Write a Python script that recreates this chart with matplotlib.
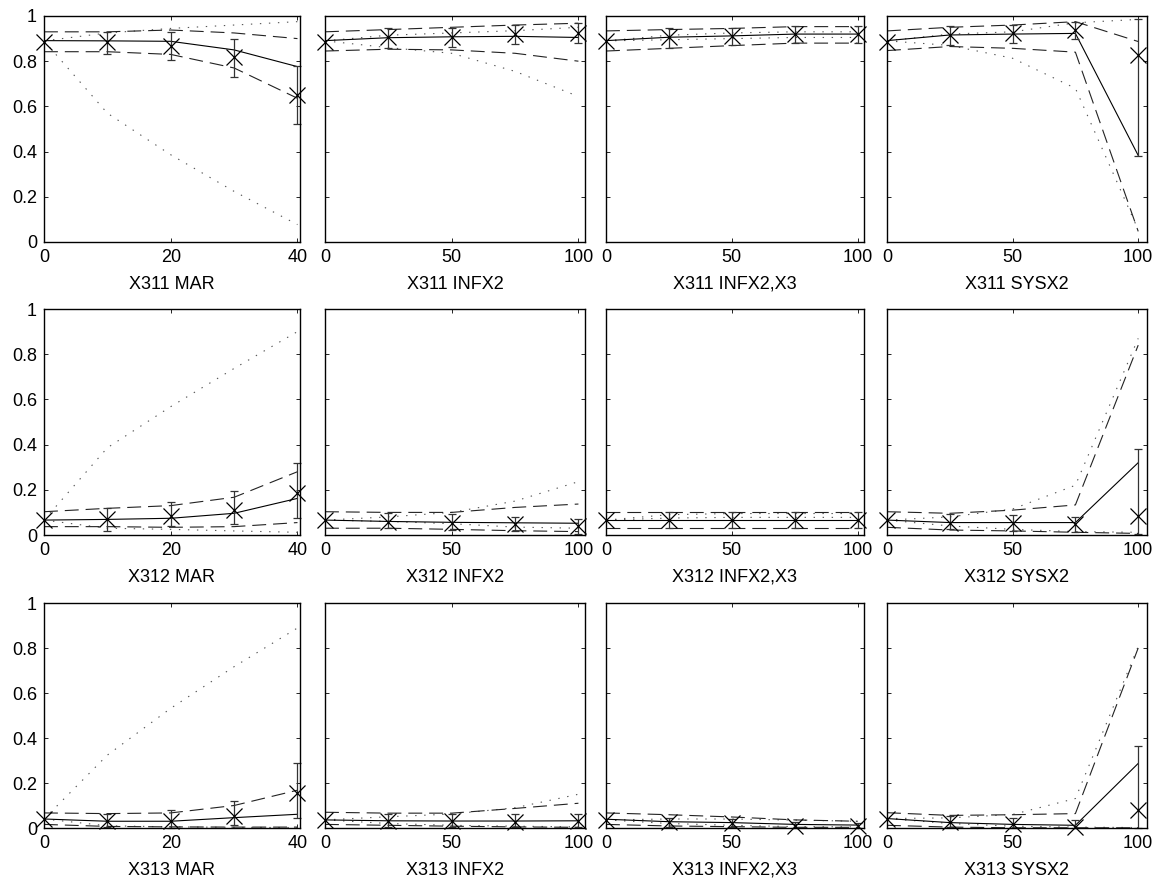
import matplotlib
matplotlib.use('Agg')
import matplotlib.pyplot as plt
import numpy as np

plt.rcParams['font.family'] = ['Liberation Sans', 'DejaVu Sans']
plt.rcParams['lines.scale_dashes'] = False

# panel titles (row by row)
titles = ['X311 MAR', 'X311 INFX2', 'X311 INFX2,X3', 'X311 SYSX2',
          'X312 MAR', 'X312 INFX2', 'X312 INFX2,X3', 'X312 SYSX2',
          'X313 MAR', 'X313 INFX2', 'X313 INFX2,X3', 'X313 SYSX2']
x_mar = [0, 10, 20, 30, 40]
x_pct = [0, 25, 50, 75, 100]

# solid line
mean_line = [
    [0.891, 0.890, 0.888, 0.850, 0.776],
    [0.891, 0.904, 0.908, 0.910, 0.905],
    [0.891, 0.906, 0.912, 0.920, 0.920],
    [0.891, 0.916, 0.920, 0.923, 0.383],
    [0.066, 0.069, 0.074, 0.096, 0.162],
    [0.066, 0.060, 0.056, 0.054, 0.052],
    [0.066, 0.066, 0.066, 0.066, 0.066],
    [0.066, 0.055, 0.055, 0.055, 0.320],
    [0.040, 0.030, 0.030, 0.046, 0.061],
    [0.036, 0.032, 0.031, 0.031, 0.032],
    [0.039, 0.028, 0.024, 0.016, 0.013],
    [0.042, 0.024, 0.016, 0.012, 0.287],
]
# x markers
est = [
    [0.887, 0.884, 0.867, 0.820, 0.650],
    [0.887, 0.906, 0.906, 0.920, 0.923],
    [0.888, 0.905, 0.910, 0.920, 0.920],
    [0.887, 0.916, 0.923, 0.938, 0.828],
    [0.066, 0.069, 0.086, 0.110, 0.184],
    [0.066, 0.058, 0.052, 0.048, 0.040],
    [0.066, 0.066, 0.066, 0.066, 0.066],
    [0.066, 0.055, 0.052, 0.047, 0.084],
    [0.040, 0.031, 0.031, 0.052, 0.156],
    [0.036, 0.030, 0.030, 0.028, 0.030],
    [0.036, 0.026, 0.022, 0.010, 0.008],
    [0.042, 0.027, 0.016, 0.004, 0.082],
]
# error bar ends
err_hi = [
    [0.887, 0.928, 0.928, 0.900, 0.780],
    [0.887, 0.945, 0.945, 0.960, 0.970],
    [0.888, 0.945, 0.945, 0.955, 0.955],
    [0.887, 0.956, 0.960, 0.975, 0.985],
    [0.066, 0.120, 0.145, 0.195, 0.317],
    [0.066, 0.099, 0.092, 0.081, 0.069],
    [0.066, 0.103, 0.103, 0.103, 0.103],
    [0.066, 0.093, 0.088, 0.078, 0.379],
    [0.040, 0.061, 0.082, 0.119, 0.290],
    [0.036, 0.061, 0.061, 0.061, 0.061],
    [0.036, 0.046, 0.038, 0.025, 0.022],
    [0.042, 0.053, 0.046, 0.037, 0.364],
]
err_lo = [
    [0.887, 0.830, 0.806, 0.730, 0.523],
    [0.887, 0.857, 0.865, 0.875, 0.882],
    [0.888, 0.857, 0.872, 0.880, 0.880],
    [0.887, 0.872, 0.882, 0.900, 0.379],
    [0.066, 0.018, 0.041, 0.050, 0.074],
    [0.066, 0.030, 0.022, 0.018, 0.003],
    [0.066, 0.030, 0.030, 0.030, 0.030],
    [0.066, 0.025, 0.018, 0.012, 0.003],
    [0.040, 0.004, 0.001, 0.012, 0.046],
    [0.036, 0.003, 0.003, 0.005, 0.005],
    [0.036, 0.005, 0.003, 0.000, 0.000],
    [0.042, 0.004, 0.001, 0.000, 0.000],
]
# dashed bounds
dash_hi = [
    [0.930, 0.930, 0.938, 0.925, 0.900],
    [0.930, 0.940, 0.950, 0.960, 0.968],
    [0.934, 0.940, 0.945, 0.953, 0.953],
    [0.934, 0.950, 0.960, 0.975, 0.887],
    [0.103, 0.118, 0.130, 0.167, 0.280],
    [0.103, 0.100, 0.100, 0.122, 0.137],
    [0.103, 0.103, 0.103, 0.103, 0.103],
    [0.103, 0.096, 0.110, 0.133, 0.840],
    [0.067, 0.064, 0.067, 0.100, 0.168],
    [0.070, 0.066, 0.066, 0.087, 0.110],
    [0.067, 0.059, 0.049, 0.036, 0.030],
    [0.068, 0.056, 0.059, 0.064, 0.800],
]
dash_lo = [
    [0.842, 0.842, 0.830, 0.770, 0.636],
    [0.845, 0.853, 0.850, 0.835, 0.800],
    [0.845, 0.857, 0.869, 0.880, 0.880],
    [0.847, 0.865, 0.857, 0.840, 0.047],
    [0.037, 0.037, 0.034, 0.037, 0.055],
    [0.030, 0.030, 0.025, 0.019, 0.015],
    [0.030, 0.030, 0.030, 0.030, 0.030],
    [0.034, 0.022, 0.018, 0.012, 0.007],
    [0.016, 0.007, 0.005, 0.004, 0.004],
    [0.016, 0.012, 0.008, 0.005, 0.003],
    [0.016, 0.009, 0.006, 0.003, 0.003],
    [0.012, 0.004, 0.001, 0.001, 0.001],
]
# dotted bounds
dot_hi = [
    [0.890, 0.925, 0.945, 0.960, 0.975],
    [0.890, 0.915, 0.925, 0.935, 0.950],
    [0.890, 0.915, 0.925, 0.930, 0.930],
    [0.890, 0.920, 0.930, 0.970, 0.985],
    [0.066, 0.386, 0.568, 0.737, 0.900],
    [0.066, 0.080, 0.100, 0.150, 0.236],
    [0.066, 0.090, 0.095, 0.095, 0.095],
    [0.066, 0.080, 0.115, 0.220, 0.870],
    [0.040, 0.324, 0.532, 0.717, 0.889],
    [0.036, 0.050, 0.062, 0.090, 0.150],
    [0.036, 0.040, 0.040, 0.035, 0.030],
    [0.042, 0.045, 0.060, 0.131, 0.807],
]
dot_lo = [
    [0.890, 0.570, 0.386, 0.224, 0.077],
    [0.890, 0.860, 0.835, 0.755, 0.644],
    [0.890, 0.895, 0.900, 0.905, 0.905],
    [0.890, 0.870, 0.813, 0.680, 0.054],
    [0.066, 0.030, 0.025, 0.018, 0.012],
    [0.066, 0.060, 0.050, 0.035, 0.030],
    [0.066, 0.075, 0.078, 0.078, 0.078],
    [0.066, 0.040, 0.025, 0.015, 0.012],
    [0.040, 0.010, 0.005, 0.003, 0.002],
    [0.036, 0.020, 0.012, 0.008, 0.005],
    [0.036, 0.020, 0.012, 0.006, 0.005],
    [0.042, 0.020, 0.008, 0.004, 0.002],
]

W, H = 1159, 880
fig = plt.figure(figsize=(W / 100, H / 100), dpi=100)

# axes boxes in pixels
col_left = [44, 325, 606, 887]
col_w = [256, 260, 258, 260]
col_xmax = [40.4, 102.6, 102.5, 103.5]
row_top = [16, 309, 603]
row_h = [226, 226, 225]

for i in range(12):
    r, c = divmod(i, 4)
    ax = fig.add_axes([col_left[c] / W, 1 - (row_top[r] + row_h[r]) / H,
                       col_w[c] / W, row_h[r] / H])
    x = np.array(x_mar if c == 0 else x_pct)

    ax.plot(x, dot_hi[i], color='#555555', lw=0.8, dashes=(1, 5.5))
    ax.plot(x, dot_lo[i], color='#555555', lw=0.8, dashes=(1, 5.5))
    ax.plot(x, dash_hi[i], color='#222222', lw=0.8, dashes=(10, 5))
    ax.plot(x, dash_lo[i], color='#222222', lw=0.8, dashes=(10, 5))
    ax.plot(x, mean_line[i], color='black', lw=0.8)

    e = np.array(est[i])
    lo = e - np.array(err_lo[i])
    hi = np.array(err_hi[i]) - e
    eb = ax.errorbar(x[1:], e[1:], yerr=[lo[1:], hi[1:]], fmt='none',
                     ecolor='#333333', elinewidth=0.9, capsize=3, capthick=0.9)
    for art in eb.lines[1] + eb.lines[2]:
        art.set_clip_on(False)
    ax.plot(x, e, 'x', color='black', ms=11, mew=0.9, clip_on=False)

    ax.set_xlim(0, col_xmax[c])
    ax.set_ylim(0, 1)
    ax.set_xticks([0, 20, 40] if c == 0 else [0, 50, 100])
    ax.set_yticks([0, 0.2, 0.4, 0.6, 0.8, 1])
    if c == 0:
        ax.set_yticklabels(['0', '0.2', '0.4', '0.6', '0.8', '1'])
    else:
        ax.set_yticklabels([])
    ax.tick_params(direction='in', top=True, right=True, length=3,
                   width=0.6, labelsize=13, pad=5)
    for s in ax.spines.values():
        s.set_linewidth(1.0)
    ax.set_xlabel(titles[i], fontsize=13, labelpad=7)

fig.savefig('out.png', dpi=100)
